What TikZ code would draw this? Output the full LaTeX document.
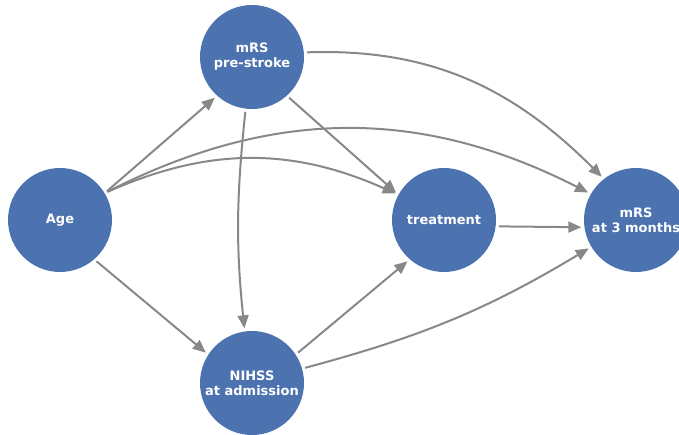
\documentclass[tikz,border=0pt]{standalone}
\usepackage{fontspec}
\setmainfont{DejaVu Sans}
\usetikzlibrary{arrows.meta}
\definecolor{nodeblue}{RGB}{76,114,176}
\definecolor{edgegray}{RGB}{136,136,136}
\tikzset{
  var/.style={circle,fill=nodeblue,text=white,minimum size=104pt,inner sep=0pt,
    align=center,font=\fontsize{13}{15}\selectfont\bfseries},
  edge/.style={draw=edgegray,line width=2pt,shorten <=3pt,shorten >=3pt,
    -{Triangle[length=13pt,width=11pt]}}
}
\begin{document}
\begin{tikzpicture}[x=1pt,y=1pt]
\useasboundingbox (0,0) rectangle (679,434);
\node[var] (age) at ( 60 , 214 ){Age};
\node[var] (pre) at ( 252 , 377 ){mRS\\pre-stroke};
\node[var] (treat) at ( 444 , 214 ){treatment};
\node[var] (three) at ( 636 , 214 ){mRS\\at 3 months};
\node[var] (nihss) at ( 252 , 51 ){NIHSS\\at admission};
\draw[edge] (age.31) -- (pre.228);
\draw[edge] (age.31) to[out=24,in=156] (treat.151);
\draw[edge] (age.31) to[out=27,in=153] (three.150);
\draw[edge] (age.-49) -- (nihss.147);
\draw[edge] (pre.-97) to[out=-96,in=96] (nihss.98);
\draw[edge] (pre.-48) -- (treat.151);
\draw[edge] (pre.5) to[out=2,in=135] (three.128);
\draw[edge] (nihss.33) -- (treat.-131);
\draw[edge] (nihss.16) to[out=15,in=211] (three.211);
\draw[edge] (treat.-7) -- (three.188);
\end{tikzpicture}
\end{document}
